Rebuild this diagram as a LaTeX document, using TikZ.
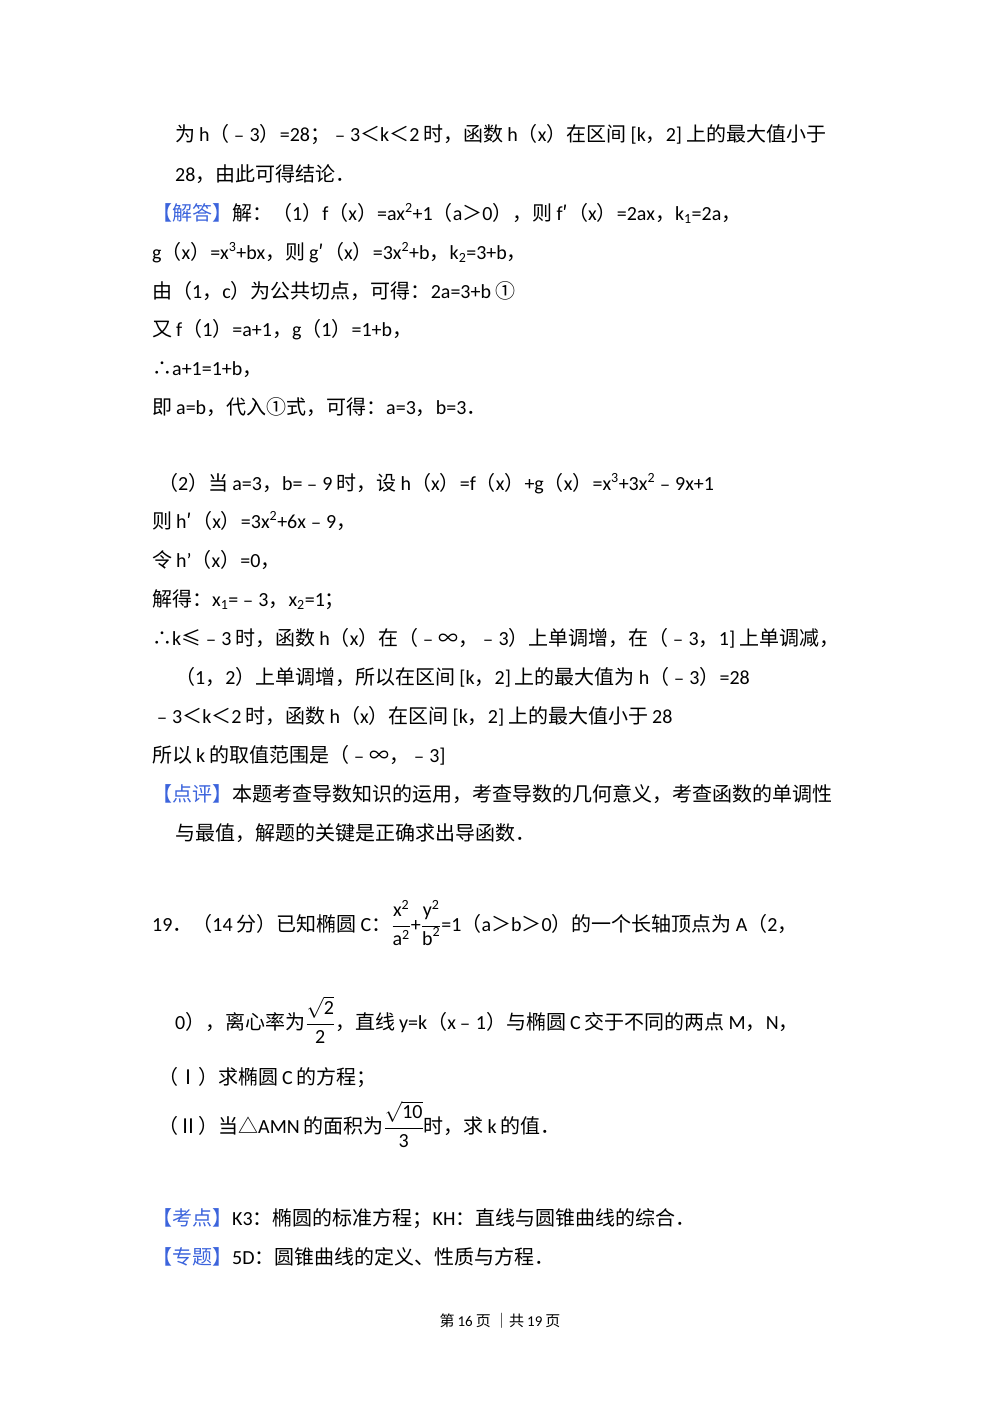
\documentclass[tikz,border=0pt]{standalone}
\usepackage{fontspec}
\setmainfont{Carlito}
\newfontfamily\cjk{Noto Sans CJK SC}
\XeTeXinterchartokenstate=1
\newXeTeXintercharclass\cjkp
\newXeTeXintercharclass\cjki
\newcount\cc
\def\setrange#1#2#3{\cc=#1 \loop\XeTeXcharclass\cc=#3 \ifnum\cc<#2 \advance\cc 1 \repeat}
\setrange{"2000}{"2BFF}\cjkp\setrange{"3000}{"4DFF}\cjkp\setrange{"4E00}{"9FFF}\cjki
\setrange{"FE30}{"FE6F}\cjkp\setrange{"FF00}{"FFEF}\cjkp
\XeTeXinterchartoks 0 \cjki = {\hskip0.2em\cjk}
\XeTeXinterchartoks 0 \cjkp = {\cjk}
\XeTeXinterchartoks 4095 \cjki = {\cjk}
\XeTeXinterchartoks 4095 \cjkp = {\cjk}
\XeTeXinterchartoks \cjki 0 = {\rmfamily\hskip0.2em}
\XeTeXinterchartoks \cjkp 0 = {\rmfamily}
\XeTeXinterchartoks \cjki 4095 = {\rmfamily}
\XeTeXinterchartoks \cjkp 4095 = {\rmfamily}
\definecolor{jblue}{RGB}{60,100,220}
\newcommand{\lbl}[1]{\textcolor{jblue}{【#1】}}
\newcommand{\tsq}[1]{\mbox{#1}^{\mbox{\fontsize{14}{16}\selectfont 2}}}
\tikzset{ln/.style={anchor=base west,inner sep=0pt,font=\fontsize{20}{24}\selectfont}}
\begin{document}
\begin{tikzpicture}[x=1pt,y=-1pt]
\useasboundingbox (0,0) rectangle (1000,1414);
\node[ln] (l1) at (175,141) {为h（﹣3）=28；﹣3＜k＜2时，函数h（x）在区间[k，2]上的最大值小于};
\node[ln] (l2) at (175,181) {28，由此可得结论．};
\node[ln] (l3) at (152,220) {\lbl{解答}解：（1）f（x）=ax\textsuperscript{2}+1（a＞0），则f′（x）=2ax，k\textsubscript{1}=2a，};
\node[ln] (l4) at (152,259) {g（x）=x\textsuperscript{3}+bx，则g′（x）=3x\textsuperscript{2}+b，k\textsubscript{2}=3+b，};
\node[ln] (l5) at (152,298) {由（1，c）为公共切点，可得：2a=3+b ①};
\node[ln] (l6) at (152,336) {又f（1）=a+1，g（1）=1+b，};
\node[ln] (l7) at (152,375) {∴a+1=1+b，};
\node[ln] (l8) at (152,414) {即a=b，代入①式，可得：a=3，b=3．};
\node[ln] (l9) at (158,490) {（2）当a=3，b=﹣9时，设h（x）=f（x）+g（x）=x\textsuperscript{3}+3x\textsuperscript{2}﹣9x+1};
\node[ln] (l10) at (152,528) {则h′（x）=3x\textsuperscript{2}+6x﹣9，};
\node[ln] (l11) at (152,567) {令h'（x）=0，};
\node[ln] (l12) at (152,606) {解得：x\textsubscript{1}=﹣3，x\textsubscript{2}=1；};
\node[ln] (l13) at (152,645) {∴k≤﹣3时，函数h（x）在（﹣∞，﹣3）上单调增，在（﹣3，1]上单调减，};
\node[ln] (l14) at (175,684) {（1，2）上单调增，所以在区间[k，2]上的最大值为h（﹣3）=28};
\node[ln] (l15) at (152,723) {﹣3＜k＜2时，函数h（x）在区间[k，2]上的最大值小于28};
\node[ln] (l16) at (152,762) {所以k的取值范围是（﹣∞，﹣3]};
\node[ln] (l17) at (152,801) {\lbl{点评}本题考查导数知识的运用，考查导数的几何意义，考查函数的单调性};
\node[ln] (l18) at (175,840) {与最值，解题的关键是正确求出导函数．};
\node[ln] (l19) at (152,931) {19．（14分）已知椭圆C：$\displaystyle\frac{\tsq{x}}{\tsq{a}}$+$\displaystyle\frac{\tsq{y}}{\tsq{b}}$=1（a＞b＞0）的一个长轴顶点为A（2，};
\node[ln] (l20) at (175,1029) {0），离心率为$\displaystyle\frac{\sqrt{\mbox{2}}}{\mbox{2}}$，直线y=k（x﹣1）与椭圆C交于不同的两点M，N，};
\node[ln] (l21) at (158,1084) {（Ⅰ）求椭圆C的方程；};
\node[ln] (l22) at (158,1133) {（Ⅱ）当△AMN的面积为$\displaystyle\frac{\sqrt{\mbox{10}}}{\mbox{3}}$时，求k的值．};
\node[ln] (l23) at (152,1225) {\lbl{考点}K3：椭圆的标准方程；KH：直线与圆锥曲线的综合．};
\node[ln] (l24) at (152,1264) {\lbl{专题}5D：圆锥曲线的定义、性质与方程．};
\node[anchor=base,inner sep=0pt,font=\fontsize{15}{18}\selectfont] (ft) at (500,1326) {第16页 ｜共19页};
\end{tikzpicture}
\end{document}
